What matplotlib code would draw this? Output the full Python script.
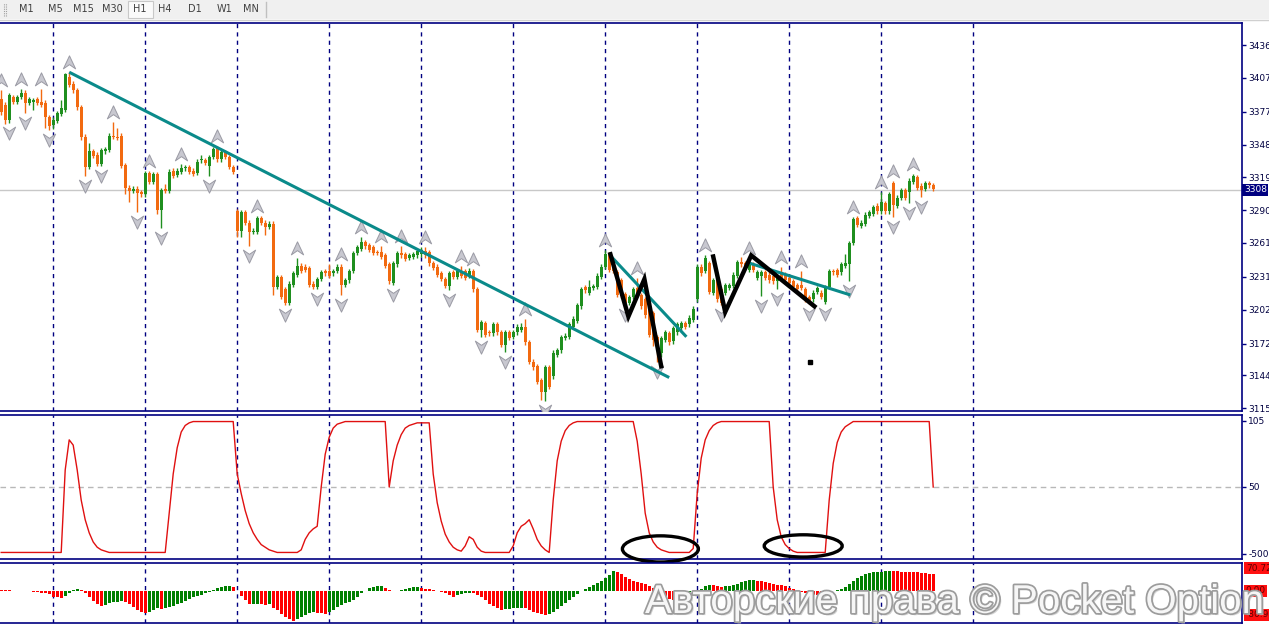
import matplotlib
matplotlib.use("Agg")
import matplotlib.pyplot as plt
import matplotlib.transforms as mtransforms
import matplotlib.patheffects as pe
from matplotlib.path import Path
from matplotlib.patches import Ellipse, Rectangle
from matplotlib.lines import Line2D
import numpy as np

# ---------------- data ----------------
opens = [3388,3383,3370,3390,3386,3390,3394,3385,3386,3388,3386,3385,3372,3365,3369,3375,3379,3408,3402,3396,
         3381,3355,3328,3342,3339,3331,3342,3343,3356,3355,3356,3330,3310,3307,3309,3306,3304,3323,3315,3322,
         3290,3309,3307,3325,3321,3324,3327,3328,3325,3323,3334,3334,3329,3337,3345,3335,3341,3337,3328,3289,
         3272,3288,3279,3271,3271,3283,3279,3275,3278,3222,3231,3220,3208,3224,3233,3241,3240,3239,3225,3222,
         3229,3236,3236,3234,3236,3240,3224,3228,3236,3252,3256,3262,3259,3257,3253,3253,3250,3242,3226,3242,
         3252,3251,3248,3249,3250,3251,3254,3253,3243,3240,3234,3229,3223,3235,3231,3236,3236,3232,3236,3220,
         3184,3190,3182,3181,3189,3182,3171,3182,3178,3182,3184,3187,3173,3156,3152,3140,3129,3151,3143,3162,
         3166,3177,3178,3187,3192,3205,3222,3217,3221,3222,3231,3240,3251,3244,3235,3228,3216,3208,3213,3221,
         3215,3211,3206,3199,3178,3164,3175,3181,3174,3182,3186,3190,3189,3193,3211,3240,3236,3243,3217,3228,
         3220,3217,3221,3223,3232,3244,3243,3237,3242,3230,3232,3235,3233,3232,3227,3235,3233,3230,3227,3224,
         3224,3220,3213,3211,3218,3217,3209,3222,3236,3237,3235,3241,3242,3261,3283,3276,3278,3285,3287,3294,
         3289,3296,3289,3314,3294,3301,3308,3306,3315,3319,3311,3309,3314,3312]
closes = [3377,3370,3392,3386,3390,3394,3385,3388,3387,3385,3383,3372,3364,3370,3376,3380,3410,3401,3396,3381,
          3355,3328,3342,3338,3331,3343,3344,3356,3355,3354,3329,3310,3307,3309,3305,3304,3323,3315,3322,3290,
          3308,3307,3324,3320,3325,3327,3328,3324,3322,3333,3335,3332,3337,3344,3335,3341,3337,3328,3324,3272,
          3288,3279,3271,3272,3283,3279,3275,3278,3222,3231,3213,3208,3225,3234,3241,3236,3237,3224,3222,3229,
          3235,3234,3232,3236,3240,3224,3228,3236,3252,3257,3262,3258,3255,3252,3252,3249,3241,3227,3243,3252,
          3250,3247,3250,3251,3254,3255,3250,3243,3239,3233,3229,3223,3234,3231,3236,3232,3230,3236,3220,3184,
          3191,3180,3181,3189,3182,3171,3182,3177,3182,3187,3187,3173,3156,3151,3138,3129,3151,3134,3164,3166,
          3178,3179,3189,3194,3206,3220,3219,3222,3223,3232,3240,3251,3237,3236,3215,3214,3208,3213,3220,3215,
          3205,3197,3180,3175,3168,3177,3182,3173,3186,3189,3190,3187,3195,3203,3240,3234,3248,3218,3228,3211,
          3208,3224,3224,3233,3244,3242,3239,3242,3237,3235,3235,3230,3228,3227,3230,3230,3228,3226,3222,3220,
          3221,3211,3209,3217,3221,3213,3222,3236,3235,3233,3242,3243,3261,3282,3277,3279,3286,3288,3293,3289,
          3297,3289,3304,3295,3301,3308,3301,3316,3320,3310,3308,3314,3312,3309]
highs = [3396,3386,3394,3392,3392,3397,3396,3390,3389,3390,3397,3387,3374,3372,3378,3387,3411,3412,3404,3398,
         3383,3357,3349,3344,3341,3345,3346,3358,3368,3363,3358,3332,3312,3311,3311,3308,3325,3325,3324,3324,
         3310,3313,3326,3327,3327,3331,3330,3330,3327,3335,3339,3336,3339,3346,3347,3343,3343,3339,3330,3291,
         3290,3290,3281,3274,3285,3285,3281,3280,3280,3233,3233,3222,3227,3236,3248,3243,3242,3241,3227,3231,
         3237,3238,3242,3238,3242,3242,3230,3238,3254,3259,3266,3264,3261,3259,3255,3258,3252,3244,3245,3254,
         3258,3253,3252,3253,3256,3257,3257,3255,3245,3242,3236,3231,3236,3237,3238,3241,3238,3239,3238,3222,
         3193,3192,3184,3191,3191,3184,3184,3184,3184,3189,3190,3194,3175,3158,3154,3142,3153,3153,3166,3168,
         3180,3181,3191,3196,3208,3222,3224,3228,3225,3234,3242,3255,3253,3246,3237,3230,3218,3215,3222,3230,
         3217,3213,3208,3201,3180,3179,3184,3183,3188,3191,3192,3192,3197,3205,3242,3242,3250,3245,3230,3230,
         3222,3226,3226,3235,3246,3249,3245,3248,3244,3237,3237,3237,3235,3234,3232,3240,3235,3232,3229,3226,
         3236,3222,3215,3219,3223,3219,3224,3238,3238,3239,3244,3251,3263,3284,3285,3281,3288,3290,3295,3296,
         3306,3298,3306,3316,3303,3310,3310,3318,3322,3321,3314,3316,3316,3314]
lows = [3374,3366,3367,3384,3384,3388,3376,3383,3379,3383,3381,3363,3361,3362,3367,3373,3377,3399,3394,3379,
        3352,3320,3326,3336,3329,3329,3340,3341,3353,3352,3327,3304,3297,3305,3288,3302,3302,3313,3313,3287,
        3274,3305,3305,3318,3319,3322,3325,3322,3320,3321,3332,3330,3320,3335,3333,3333,3335,3326,3322,3266,
        3266,3277,3258,3269,3269,3277,3268,3273,3215,3220,3211,3206,3206,3222,3231,3234,3235,3222,3220,3220,
        3227,3232,3230,3232,3234,3215,3222,3226,3234,3250,3254,3256,3253,3250,3250,3247,3239,3225,3224,3240,
        3248,3245,3246,3247,3248,3249,3248,3241,3237,3231,3227,3221,3219,3229,3229,3230,3228,3230,3218,3182,
        3178,3178,3179,3179,3180,3169,3165,3175,3176,3180,3182,3171,3154,3149,3136,3122,3121,3132,3141,3160,
        3164,3175,3176,3185,3190,3203,3217,3215,3219,3220,3229,3238,3235,3234,3213,3212,3206,3206,3211,3213,
        3203,3195,3178,3170,3156,3160,3173,3171,3172,3180,3184,3185,3187,3191,3209,3232,3234,3216,3215,3209,
        3206,3215,3219,3221,3230,3240,3237,3235,3235,3228,3214,3228,3226,3225,3220,3228,3226,3224,3220,3218,
        3219,3209,3207,3209,3216,3211,3207,3220,3233,3231,3233,3239,3227,3259,3275,3274,3276,3283,3285,3287,
        3287,3287,3287,3284,3292,3299,3299,3296,3313,3308,3302,3307,3310,3307]

# fractal indicator (bar indices)
fractal_up = [0, 5, 10, 17, 28, 37, 45, 54, 64, 74, 85, 90, 95, 100, 106, 115, 118, 131, 151, 159,
              176, 187, 195, 200, 213, 220, 223, 228]
fractal_down = [2, 6, 12, 21, 25, 34, 40, 52, 62, 71, 79, 85, 98, 112, 120, 126, 136, 156, 164, 180,
                190, 194, 202, 206, 212, 223, 227, 230]

# oscillator (upper sub-window)
osc = [0,0,0,0,0,0,0,0,0,0,0,0,0,0,0,0,63,86,82,63,40,25,15,8,4,2,1,
       0,0,0,0,0,0,0,0,0,0,0,0,0,0,0,
       30,60,80,92,97,99,
       100,100,100,100,100,100,100,100,100,100,100,
       60,45,32,22,15,10,6,4,2,1,
       0,0,0,0,0,0,
       2,10,15,18,20,50,75,88,95,98,99,
       100,100,100,100,100,100,100,100,100,100,100,
       50,70,82,90,95,97,98,
       99,99,99,99,
       60,38,24,14,8,4,2,1,5,12,10,4,1,
       0,0,0,0,0,0,0,
       5,15,20,22,25,18,10,5,2,0,40,70,85,93,97,99,
       100,100,100,100,100,100,100,100,100,100,100,100,100,100,100,
       85,60,30,15,8,4,2,1,
       0,0,0,0,0,0,
       3,45,72,86,93,97,99,
       100,100,100,100,100,100,100,100,100,100,100,100,100,
       50,25,12,6,3,1,
       0,0,0,0,0,0,0,0,
       40,68,84,92,96,98,
       100,100,100,100,100,100,100,100,100,100,100,100,100,100,100,100,100,100,100,100,
       50]

# histogram (lower sub-window)
hist = [3,2.5,2,-0.5,0,0.3,0.6,0.8,-2,-3,-4,-5,-7,-15,-16,-16.5,-12,-4,3,4,
        3,-4,-14,-26,-33,-37,-35,-31,-28,-27,-26.5,-29,-34,-40,-48,-52,-56,-52,-48,-44,
        -46,-43,-40,-37,-34,-30,-25,-20,-16,-13,-9,-6,-3,2,7,10,12.5,13,10,0,
        -13,-23,-34,-33,-32,-34,-35,-34,-44,-48,-57,-65,-72,-75,-71,-65,-60,-56,-54,-55,
        -56,-57,-54,-49,-40,-36,-31,-28,-23,-14,-6,0,8,11,11.5,12,7,3,1,0,
        3,4.5,7,9,9.5,7,5,4,3,1,-2,-6,-10,-14,-11,-7,-5,-4,-6,-10,
        -16,-24,-32,-38,-44,-48,-46,-45,-44,-43,-42,-44,-48,-52,-55,-58,-60,-58,-52,-45,
        -38,-30,-22,-15,-8,-1,5,10,15,20,26,32,40,50,47,42,36,30,26,22,
        20,17,13,8,2,-5,-12,-20,-22,-15,-8,-3,-2,-1,2,6,12,16,14,12,
        11,12,13,15,18,22,25,27,28,26,24,22,20,18,16,14,12,8,4,0,
        -3,-6,-8,-9,-10,-10.5,-8,-4,-1,2,5,10,18,26,33,38,42,45,47,48,
        49,50,50.5,50,49.5,49,48.5,48,47.5,47,46,45,44,43]

# drawn objects (bar index, price)
trend1_x = [17, 167];        trend1_y = [3412, 3142]
trend2_x = [152.5, 171.3];   trend2_y = [3249, 3178]
trend3_x = [186.3, 212.3];   trend3_y = [3244, 3215]
zig1_x = [152.3, 156.8, 160.8, 165.0]; zig1_y = [3251, 3196, 3229, 3152]
zig2_x = [178.0, 181.0, 187.5, 203.3]; zig2_y = [3249, 3200, 3250, 3205]
dot_x = [202.3]; dot_y = [3156]

grid_idx = [13, 36, 59, 82, 105, 128, 151, 174, 197, 220, 243]
price_ticks = [3436, 3407, 3377, 3348, 3319, 3290, 3261, 3231, 3202, 3172, 3144, 3115]
current_price = 3308
tf_labels = ["M1", "M5", "M15", "M30", "H1", "H4", "D1", "W1", "MN"]

# ---------------- figure ----------------
W, H = 1269, 627
fig = plt.figure(figsize=(W / 100, H / 100), dpi=100)
fig.patch.set_facecolor("white")

def rect(x0, y0, x1, y1):
    return [x0 / W, 1 - y1 / H, (x1 - x0) / W, (y1 - y0) / H]

NAVY = "#000080"
BULL = "#1f8f1f"
BEAR = "#f26a10"
n = len(closes)
x = np.arange(n)
XMIN, XMAX = -0.3, 310.2

ax = fig.add_axes(rect(0, 23, 1242, 411))
axi = fig.add_axes(rect(0, 415, 1242, 559))
axh = fig.add_axes(rect(0, 563, 1242, 623))

for a in (ax, axi, axh):
    a.set_xlim(XMIN, XMAX)
    a.set_xticks([])
    a.yaxis.tick_right()
    a.tick_params(axis="y", direction="out", length=3, width=1, color=NAVY,
                  labelsize=6.5, labelcolor="#000040", pad=1.5)
    a.spines["left"].set_visible(False)
    for s in ("top", "bottom", "right"):
        a.spines[s].set_color(NAVY)
        a.spines[s].set_linewidth(1.2)
    for g in grid_idx:
        a.axvline(g, color=NAVY, lw=1, ls=(0, (3, 3)), zorder=0.5)

# ---- main price pane ----
ax.set_ylim(3112.4, 3455.5)
ax.set_yticks(price_ticks)
ax.set_yticklabels([str(v) for v in price_ticks])
ax.axhline(current_price, color="#c8c8c8", lw=1, zorder=0.6)

o = np.array(opens, float); c = np.array(closes, float)
hi = np.array(highs, float); lo = np.array(lows, float)
cols = [BULL if c[i] >= o[i] else BEAR for i in range(n)]
ax.vlines(x, lo, hi, colors=cols, lw=1, zorder=2)
body_bot = np.minimum(o, c)
body_h = np.maximum(np.abs(c - o), 0.9)
ax.bar(x, body_h, bottom=body_bot, width=0.74, color=cols, lw=0, zorder=3)

up_path = Path([(0, 1), (0.8, -0.7), (0, -0.15), (-0.8, -0.7), (0, 1)],
               [Path.MOVETO, Path.LINETO, Path.LINETO, Path.LINETO, Path.CLOSEPOLY])
dn_path = Path([(0, -1), (0.8, 0.7), (0, 0.15), (-0.8, 0.7), (0, -1)],
               [Path.MOVETO, Path.LINETO, Path.LINETO, Path.LINETO, Path.CLOSEPOLY])
ax.plot(fractal_up, [hi[i] + 8 for i in fractal_up], ls="none", marker=up_path, ms=11,
        mfc="#c8c8d0", mec="#9a9aa4", mew=0.7, zorder=4)
ax.plot(fractal_down, [lo[i] - 8 for i in fractal_down], ls="none", marker=dn_path, ms=11,
        mfc="#c8c8d0", mec="#9a9aa4", mew=0.7, zorder=4)

TEAL = "#0a8a8a"
for tx, ty in ((trend1_x, trend1_y), (trend2_x, trend2_y), (trend3_x, trend3_y)):
    ax.plot(tx, ty, color=TEAL, lw=2.2, zorder=5, solid_capstyle="butt")
for zx, zy in ((zig1_x, zig1_y), (zig2_x, zig2_y)):
    ax.plot(zx, zy, color="black", lw=3.2, zorder=6, solid_joinstyle="miter")
ax.plot(dot_x, dot_y, ls="none", marker="s", ms=2.5, color="black", zorder=6)

btr = mtransforms.blended_transform_factory(ax.transAxes, ax.transData)
ax.text(1.0015, current_price, str(current_price), transform=btr, ha="left", va="center",
        fontsize=6.5, color="white", zorder=10, clip_on=False,
        bbox=dict(boxstyle="square,pad=0.18", fc=NAVY, ec="none"))

# ---- oscillator pane ----
axi.set_ylim(-5, 105)
axi.plot(x, osc, color="#e01010", lw=1, zorder=3)
axi.axhline(50, color="#b8b8b8", lw=1, ls=(0, (4, 3)), zorder=0.6)
axi.set_yticks([100.5, 50, -1])
axi.set_yticklabels(["105", "50", "-500"])
for cx, cy, ew, eh in ((164.8, 2.7, 19.0, 20.0), (200.5, 5.0, 19.5, 17.0)):
    axi.add_patch(Ellipse((cx, cy), ew, eh, fill=False, ec="black", lw=2.4,
                          clip_on=False, zorder=8))

# ---- histogram pane ----
axh.set_ylim(-80.9, 70.72)
hv = np.array(hist, float)
hcols = ["#ff0000"] + [("#008000" if hv[i] > hv[i - 1] else "#ff0000") for i in range(1, n)]
axh.bar(x, hv, width=0.7, color=hcols, lw=0, zorder=3)
axh.set_yticks([])
htr = mtransforms.blended_transform_factory(axh.transAxes, axh.transData)
for val, lab in ((58, "70.72"), (0, "0.00"), (-60, "-80.9")):
    axh.text(1.003, val, lab, transform=htr, ha="left", va="center", fontsize=6.5,
             color="#600000", clip_on=False, zorder=10,
             bbox=dict(boxstyle="square,pad=0.15", fc="#ff1010", ec="none"))

# ---- toolbar ----
fig.patches.append(Rectangle((0, 1 - 19 / H), 1, 19 / H, transform=fig.transFigure,
                             fc="#f0f0f0", ec="none", zorder=0))
fig.lines.append(Line2D([0, 1], [1 - 19.5 / H, 1 - 19.5 / H], transform=fig.transFigure,
                        color="#d0d0d0", lw=1))
fig.patches.append(Rectangle((128 / W, 1 - 18 / H), 25 / W, 17 / H, transform=fig.transFigure,
                             fc="#fafafa", ec="#c8c8c8", lw=0.8))
for sx in (4, 6):
    fig.lines.append(Line2D([sx / W, sx / W], [1 - 16 / H, 1 - 3 / H], transform=fig.transFigure,
                            color="#a0a0a0", lw=0.8, ls=(0, (1, 1))))
fig.lines.append(Line2D([266 / W, 266 / W], [1 - 17 / H, 1 - 2 / H], transform=fig.transFigure,
                        color="#c0c0c0", lw=1))
tf_x = [26, 55, 83, 112, 140, 165, 195, 225, 251]
for lab, px in zip(tf_labels, tf_x):
    fig.text(px / W, 1 - 9.5 / H, lab, ha="center", va="center", fontsize=7, color="#404040")

# ---- watermark ----
fig.text(645 / W, 1 - 602 / H, "Авторские права © Pocket Option", ha="left", va="center",
         fontsize=29, family=["Liberation Sans", "DejaVu Sans"], color="#f6f6f6", zorder=20,
         path_effects=[pe.withSimplePatchShadow(offset=(1.5, -1.5), shadow_rgbFace="#c8c8c8", alpha=0.8),
                       pe.withStroke(linewidth=2.5, foreground="#9c9c9c")])

fig.savefig("out.png", dpi=100)
